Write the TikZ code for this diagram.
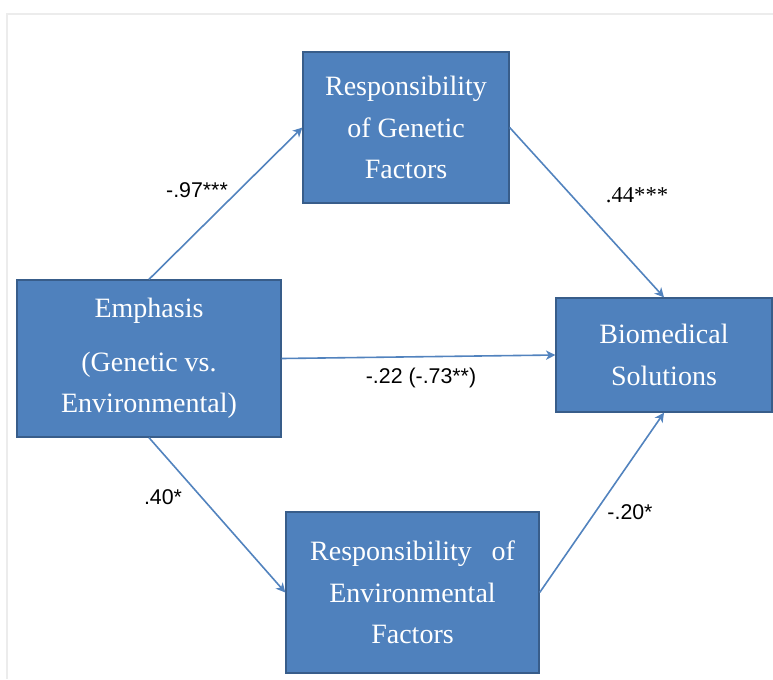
\documentclass[tikz,border=0pt]{standalone}
\usepackage{fontspec}
\setmainfont{Liberation Serif}
\setsansfont{Liberation Sans}
\usetikzlibrary{arrows.meta}
\definecolor{boxblue}{HTML}{4F81BD}
\definecolor{boxedge}{HTML}{385D8A}
\definecolor{arrowblue}{HTML}{5283BE}
\definecolor{framegray}{HTML}{ECECEC}
\tikzset{
  factor/.style={draw=boxedge, line width=1pt, fill=boxblue, text=white, align=center,
    inner sep=0pt, font=\fontsize{21}{31}\selectfont},
  link/.style={draw=arrowblue, line width=1.2pt, -{Stealth[length=7pt,width=7pt,inset=2pt]}},
  coef/.style={inner sep=0pt, font=\sffamily\fontsize{16}{19}\selectfont}
}
\begin{document}
\begin{tikzpicture}[x=0.75pt, y=-0.75pt]
  \useasboundingbox (0,0) rectangle (773,679);
  % faint frame
  \draw[framegray, line width=1.5pt] (7,679) -- (7,14) -- (773,14);
  % boxes
  \node[factor, minimum width=154.5pt, minimum height=113.25pt] (genetic) at (406,127.5)
    {Responsibility\\of Genetic\\Factors};
  \node[factor, minimum width=198pt, minimum height=117.75pt] (emphasis) at (149,358.5)
    {Emphasis\\[9pt](Genetic vs.\\Environmental)};
  \node[factor, minimum width=162pt, minimum height=85.5pt] (biomed) at (664,355)
    {Biomedical\\Solutions};
  \node[factor, minimum width=189.75pt, minimum height=120.75pt] (environ) at (412.5,592.5)
    {Responsibility\hspace{0.7em}of\\Environmental\\Factors};
  % paths
  \draw[link] (emphasis.north) -- (genetic.west);
  \draw[link] (genetic.east) -- (biomed.north);
  \draw[link] (emphasis.east) -- (biomed.west);
  \draw[link] (emphasis.south) -- (environ.west);
  \draw[link] (environ.east) -- (biomed.south);
  % coefficients
  \node[coef] (a1) at (197,190) {-.97***};
  \node[coef, font=\rmfamily\fontsize{17}{20}\selectfont] (b1) at (637,195) {.44***};
  \node[coef] (c) at (421,378) {-.22 (-.73**)};
  \node[coef] (a2) at (163,497) {.40*};
  \node[coef] (b2) at (630,512) {-.20*};
\end{tikzpicture}
\end{document}
